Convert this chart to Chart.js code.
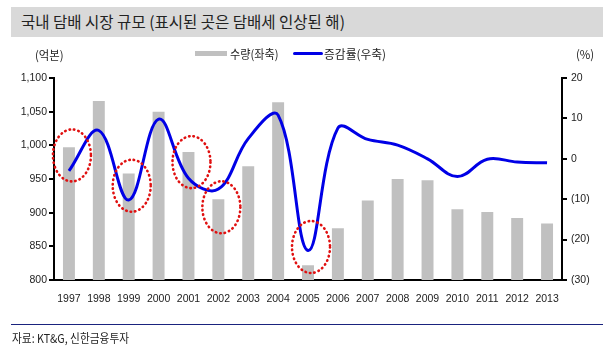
<html>
<head>
  <script src="https://cdn.jsdelivr.net/npm/chart.js"></script>
  <style>
    body { margin: 0; background: #fff; }
    #wrap { position: relative; width: 603px; height: 348px; overflow: hidden; }
    #wrap canvas { position: absolute; left: 0; top: 0; }
    .txt { position: absolute; white-space: nowrap; font-family: "Noto Sans CJK KR", sans-serif; color: #222; transform-origin: left center; }
    #titlebar { position: absolute; left: 11px; top: 7px; width: 592px; height: 30px; background: #d9d9d9; }
    #title { left: 21px; top: 9px; font-size: 16px; line-height: 24px; transform: scaleX(0.97); }
    #unitL { left: 35px; top: 46px; font-size: 12px; line-height: 18px; transform: scaleX(0.95); }
    #unitR { left: 576px; top: 45px; font-size: 12px; line-height: 18px; transform: scaleX(0.95); }
    #lgBar { position: absolute; left: 195px; top: 51px; width: 32px; height: 5px; background: #c0c0c0; }
    #lgLine { position: absolute; left: 293px; top: 52px; width: 30px; height: 3px; background: #0000e6; border-radius: 2px; }
    #lgT1 { left: 230px; top: 45px; font-size: 12px; line-height: 18px; transform: scaleX(0.93); }
    #lgT2 { left: 324px; top: 45px; font-size: 12px; line-height: 18px; transform: scaleX(0.98); }
    #srcline { position: absolute; left: 11px; top: 324px; width: 592px; height: 1px; background: #1a237e; }
    #src { left: 12px; top: 329px; font-size: 12px; line-height: 18px; transform: scaleX(0.89); }
  </style>
</head>
<body>
<div id="wrap">
  <canvas id="myChart" width="603" height="348"></canvas>
  <div id="titlebar"></div>
  <div class="txt" id="title">국내 담배 시장 규모 (표시된 곳은 담배세 인상된 해)</div>
  <div class="txt" id="unitL">(억본)</div>
  <div class="txt" id="unitR">(%)</div>
  <div id="lgBar"></div>
  <div class="txt" id="lgT1">수량(좌축)</div>
  <div id="lgLine"></div>
  <div class="txt" id="lgT2">증감률(우축)</div>
  <div id="srcline"></div>
  <div class="txt" id="src">자료: KT&amp;G, 신한금융투자</div>
</div>

<script>
// years on the x axis
const years = ['1997','1998','1999','2000','2001','2002','2003','2004','2005','2006','2007','2008','2009','2010','2011','2012','2013']
// 수량 (억본), left axis
const volume = [997, 1066, 958, 1050, 990, 920, 969, 1064, 822, 877, 918, 950, 948, 905, 901, 892, 884]
// 증감률 (%), right axis
const growth = [-3, 7, -10.2, 9.8, -4.8, -7.5, 5, 10.8, -22.7, 7.6, 4.8, 3.4, 0, -4.4, -0.1, -0.8, -1.0]
// years with tobacco tax increase, and where the circle sits (left axis units)
const taxYears = ['1997','1999','2001','2002','2005']
const taxMarkLevel = [985, 940, 975, 908, 849]

// red dotted circles around tax-hike years
const taxCircles = {
  id: 'taxCircles',
  afterDatasetsDraw(chart) {
    const ctx = chart.ctx
    const xs = chart.scales.x
    const ys = chart.scales.y
    ctx.save()
    ctx.strokeStyle = '#e01010'
    ctx.lineWidth = 2.6
    ctx.lineCap = 'round'
    ctx.setLineDash([0.5, 4])
    taxYears.forEach((yr, i) => {
      const x = xs.getPixelForValue(years.indexOf(yr)) + 3
      const y = ys.getPixelForValue(taxMarkLevel[i])
      ctx.beginPath()
      ctx.ellipse(x, y, 19, 26, 0, 0, Math.PI * 2)
      ctx.stroke()
    })
    ctx.restore()
  }
}

const tickFont = { family: '"Liberation Sans", Arial, sans-serif', size: 10.5 }

const ctx = document.getElementById('myChart')
const datasetChart = new Chart(ctx, {
  data: {
    labels: years,
    datasets: [
      {
        type: 'line',
        label: '증감률(우축)',
        data: growth,
        yAxisID: 'y1',
        borderColor: '#0000e6',
        borderWidth: 3,
        pointRadius: 0,
        tension: 0.38,
        fill: false,
        order: 1
      },
      {
        type: 'bar',
        label: '수량(좌축)',
        data: volume,
        yAxisID: 'y',
        backgroundColor: '#c0c0c0',
        barPercentage: 0.4,
        categoryPercentage: 1,
        order: 2
      }
    ]
  },
  options: {
    responsive: false,
    devicePixelRatio: 1,
    animation: false,
    layout: { padding: { top: 78, left: 0, right: 0, bottom: 0 } },
    plugins: {
      legend: { display: false },
      title: { display: false },
      tooltip: { enabled: false }
    },
    scales: {
      x: {
        grid: { display: false },
        border: { display: true, color: '#000', width: 2 },
        ticks: { color: '#222', font: tickFont, padding: 5, maxRotation: 0, autoSkip: false },
        afterFit: s => { s.height = 68 }
      },
      y: {
        position: 'left',
        min: 800,
        max: 1100,
        grid: { drawOnChartArea: false, drawTicks: true, tickLength: 5, color: '#000', lineWidth: 2 },
        border: { display: true, color: '#000', width: 2 },
        ticks: {
          stepSize: 50,
          color: '#222',
          font: tickFont,
          padding: 2,
          callback: v => v.toLocaleString('en-US')
        },
        afterFit: s => { s.width = 54 }
      },
      y1: {
        position: 'right',
        min: -30,
        max: 20,
        grid: { drawOnChartArea: false, drawTicks: true, tickLength: 5, color: '#000', lineWidth: 2 },
        border: { display: true, color: '#000', width: 2 },
        ticks: {
          stepSize: 10,
          color: '#222',
          font: tickFont,
          padding: 4,
          callback: v => v < 0 ? '(' + (-v) + ')' : String(v)
        },
        afterFit: s => { s.width = 41 }
      }
    }
  },
  plugins: [taxCircles]
})
</script>
</body>
</html>
